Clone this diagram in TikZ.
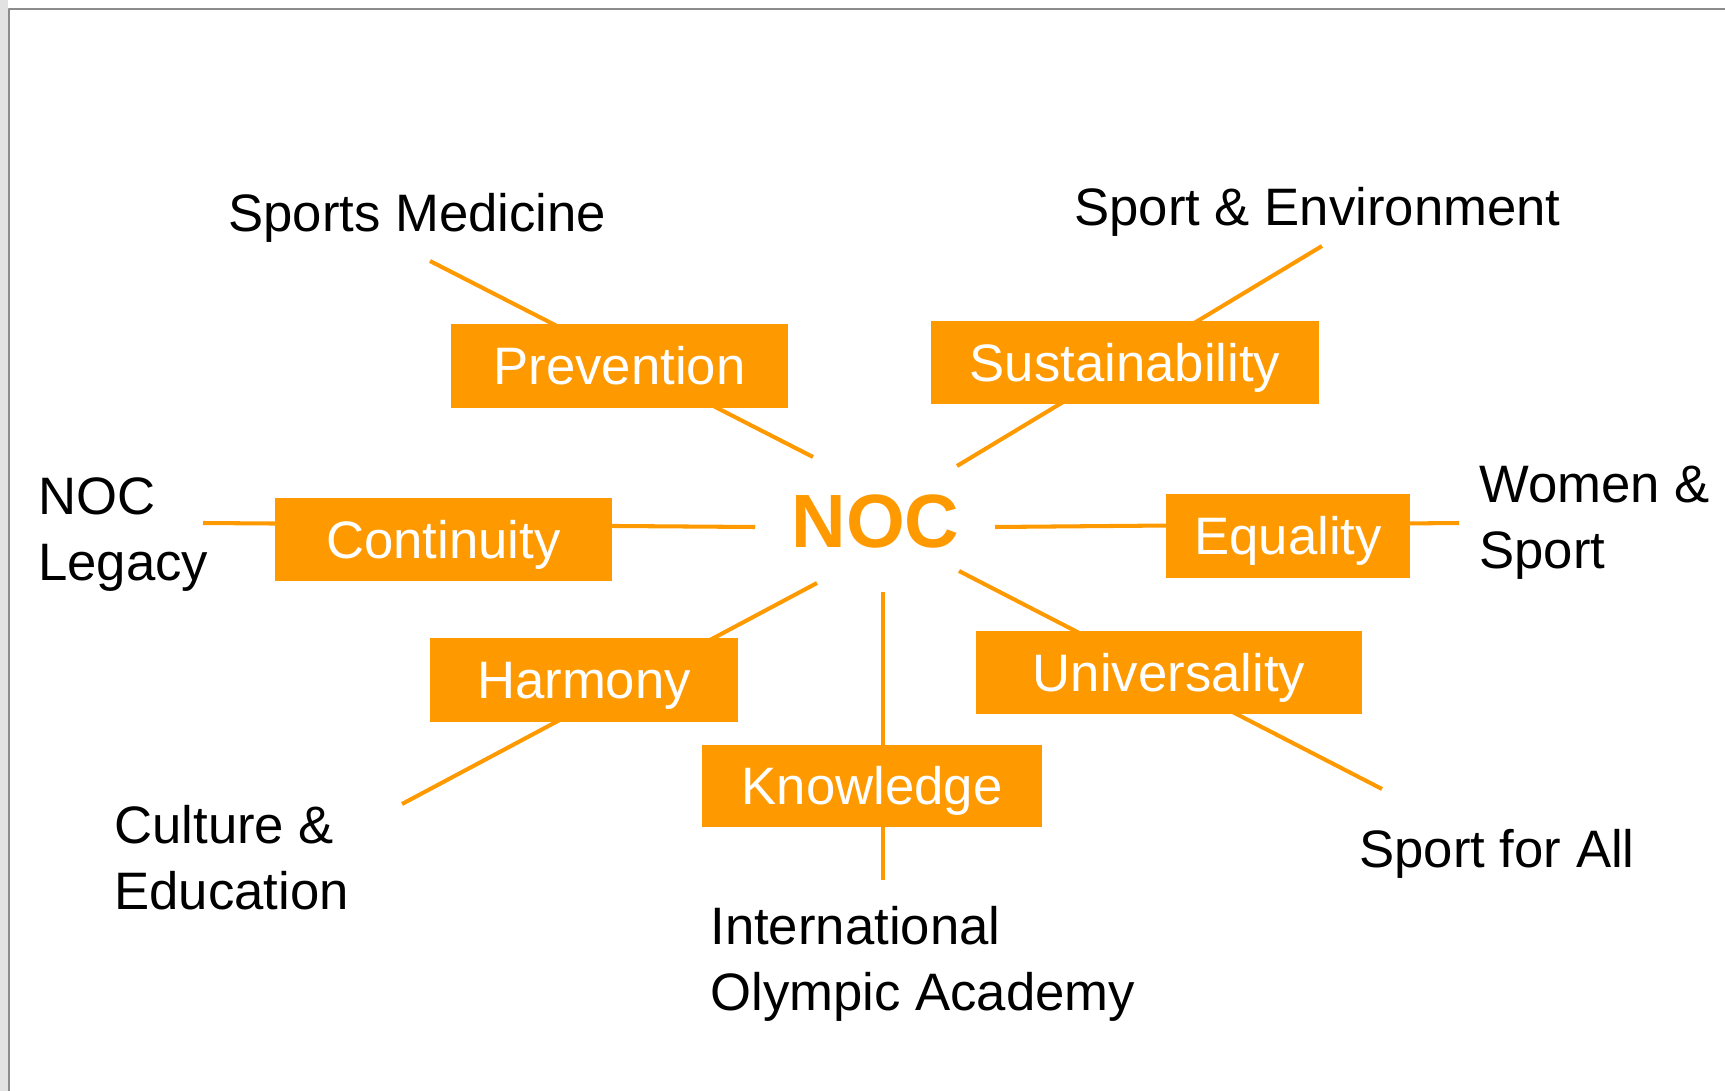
\documentclass[tikz,border=0pt]{standalone}
\usepackage{fontspec}
\setmainfont{Liberation Sans}
\definecolor{nocorange}{RGB}{255,153,0}
\definecolor{framegray}{RGB}{140,140,140}
\definecolor{stripgray}{RGB}{226,226,226}
\tikzset{
  valuebox/.style={rectangle,fill=nocorange,text=white,inner sep=0pt,
    font=\fontsize{30}{37}\selectfont,text height=21.5pt,text depth=0pt},
  topic/.style={anchor=base west,inner sep=0pt,align=left,
    font=\fontsize{30}{37}\selectfont},
  spoke/.style={draw=nocorange,line width=2.3pt}
}

\begin{document}
\begin{tikzpicture}[line join=round,x=0.02cm,y=-0.02cm]
\useasboundingbox (0,0) rectangle (1725,1091);
\fill[stripgray] (0,0) rectangle (8,1091);
\draw [color=framegray,line width=1.4pt] (1725,9)-- (9,9)-- (9,1091);
% spoke ends
\coordinate (previn) at (813,457);
\coordinate (prevout) at (430,261);
\coordinate (sustin) at (957,466);
\coordinate (sustout) at (1322,246);
\coordinate (contin) at (755,527);
\coordinate (contout) at (203,523);
\coordinate (equin) at (995,527);
\coordinate (equout) at (1459,523);
\coordinate (harmin) at (817,583);
\coordinate (harmout) at (402,804);
\coordinate (univin) at (959,571);
\coordinate (univout) at (1382,789);
\coordinate (knowin) at (883,592);
\coordinate (knowout) at (883,880);
\draw [spoke] (previn)-- (prevout);
\draw [spoke] (sustin)-- (sustout);
\draw [spoke] (contin)-- (contout);
\draw [spoke] (equin)-- (equout);
\draw [spoke] (harmin)-- (harmout);
\draw [spoke] (univin)-- (univout);
\draw [spoke] (knowin)-- (knowout);
% centre
\node (noc) at (875.5,520.5) [text=nocorange,inner sep=0pt,font=\fontsize{43}{50}\selectfont\bfseries,text height=30.8pt,text depth=0pt] {NOC};
% values
\node (prevention) at (619.5,366) [valuebox,minimum width=6.74cm,minimum height=1.68cm] {Prevention};
\node (sustainability) at (1125,362.5) [valuebox,minimum width=7.76cm,minimum height=1.66cm] {Sustainability};
\node (continuity) at (443.5,539.5) [valuebox,minimum width=6.74cm,minimum height=1.66cm] {Continuity};
\node (equality) at (1288,536) [valuebox,minimum width=4.88cm,minimum height=1.68cm] {Equality};
\node (harmony) at (584,680) [valuebox,minimum width=6.16cm,minimum height=1.68cm] {Harmony};
\node (universality) at (1169,672.5) [valuebox,minimum width=7.72cm,minimum height=1.66cm] {Universality};
\node (knowledge) at (872,786) [valuebox,minimum width=6.8cm,minimum height=1.64cm] {Knowledge};
% topics (base of last line)
\node (medicine) at (228,232) [topic] {Sports Medicine};
\node (environment) at (1074,226) [topic] {Sport \& Environment};
\node (legacy) at (38,580) [topic] {NOC\\Legacy};
\node (women) at (1479,568) [topic] {Women \&\\Sport};
\node (culture) at (114,909) [topic] {Culture \&\\Education};
\node (academy) at (710,1010) [topic] {International\\Olympic Academy};
\node (forall) at (1359,867) [topic] {Sport for All};
\end{tikzpicture}
\end{document}
